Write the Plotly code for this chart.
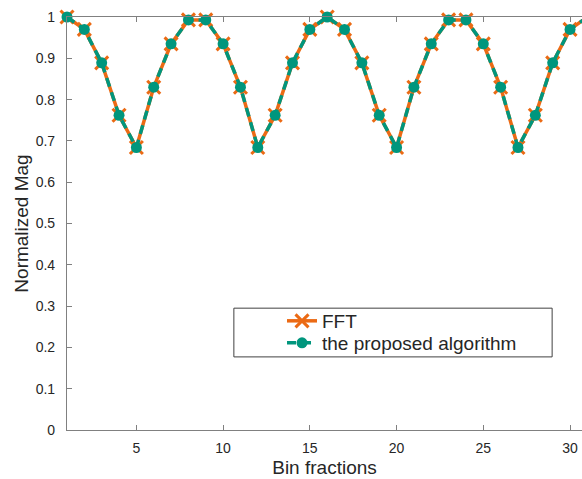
import plotly.graph_objects as go

bins = list(range(1, 32))
fft_mag = [1.0, 0.970, 0.889, 0.762, 0.684, 0.830, 0.935, 0.993, 0.993, 0.935,
           0.830, 0.684, 0.762, 0.889, 0.970, 1.0, 0.970, 0.889, 0.762, 0.684,
           0.830, 0.935, 0.993, 0.993, 0.935, 0.830, 0.684, 0.762, 0.889, 0.970, 1.0]
proposed_mag = [1.0, 0.970, 0.889, 0.762, 0.684, 0.830, 0.935, 0.993, 0.993, 0.935,
                0.830, 0.684, 0.762, 0.889, 0.970, 1.0, 0.970, 0.889, 0.762, 0.684,
                0.830, 0.935, 0.993, 0.993, 0.935, 0.830, 0.684, 0.762, 0.889, 0.970, 1.0]
x_ticks = [5, 10, 15, 20, 25, 30]
y_ticks = [0, 0.1, 0.2, 0.3, 0.4, 0.5, 0.6, 0.7, 0.8, 0.9, 1]
y_tick_text = ["0", "0.1", "0.2", "0.3", "0.4", "0.5", "0.6", "0.7", "0.8", "0.9", "1"]

ORANGE = "#EB6A14"
TEAL = "#00967D"
AXIS = "#808080"
TEXT = "#262626"
FONT = "Liberation Sans, Arial, sans-serif"

fig = go.Figure()
fig.add_trace(go.Scatter(
    x=bins, y=fft_mag, name="FFT", mode="lines+markers",
    line=dict(color=ORANGE, width=3.5),
    marker=dict(symbol="x-thin", size=13, line=dict(color=ORANGE, width=3)),
    cliponaxis=False, legend="legend",
))
fig.add_trace(go.Scatter(
    x=bins, y=proposed_mag, name="the proposed algorithm", mode="lines+markers",
    line=dict(color=TEAL, width=3.5, dash="9px,6px"),
    marker=dict(symbol="circle", size=11, color=TEAL),
    cliponaxis=False, legend="legend2",
))

leg_common = dict(
    xanchor="left", yanchor="middle",
    bgcolor="rgba(0,0,0,0)", borderwidth=0,
    font=dict(size=19, color=TEXT, family=FONT),
)

fig.update_layout(
    width=582, height=479,
    margin=dict(l=67, r=0, t=17, b=49),
    paper_bgcolor="white", plot_bgcolor="white",
    font=dict(family=FONT, color=TEXT),
    showlegend=True,
    legend=dict(x=0.4175, y=0.264, **leg_common),
    legend2=dict(x=0.4175, y=0.2107, **leg_common),
    shapes=[dict(
        type="rect", xref="paper", yref="paper",
        x0=0.324, x1=0.942, y0=0.177, y1=0.295,
        line=dict(color="#404040", width=1), fillcolor="white", layer="below",
    )],
)

fig.update_xaxes(
    range=[1, 30.69], tickvals=x_ticks, ticks="inside", ticklen=5,
    tickcolor=AXIS, showline=True, linecolor=AXIS, linewidth=1.2,
    mirror="ticks", showgrid=False, zeroline=False,
    tickfont=dict(size=14, color=TEXT), ticklabelstandoff=5,
    title=dict(text="Bin fractions", font=dict(size=19, color=TEXT), standoff=5),
)
fig.update_yaxes(
    range=[0, 1], tickvals=y_ticks, ticktext=y_tick_text, ticks="inside", ticklen=5,
    tickcolor=AXIS, showline=True, linecolor=AXIS, linewidth=1.2,
    showgrid=False, zeroline=False,
    tickfont=dict(size=14, color=TEXT), ticklabelstandoff=8,
    title=dict(text="Normalized Mag", font=dict(size=19, color=TEXT), standoff=1),
)

fig.write_html("out.html")
